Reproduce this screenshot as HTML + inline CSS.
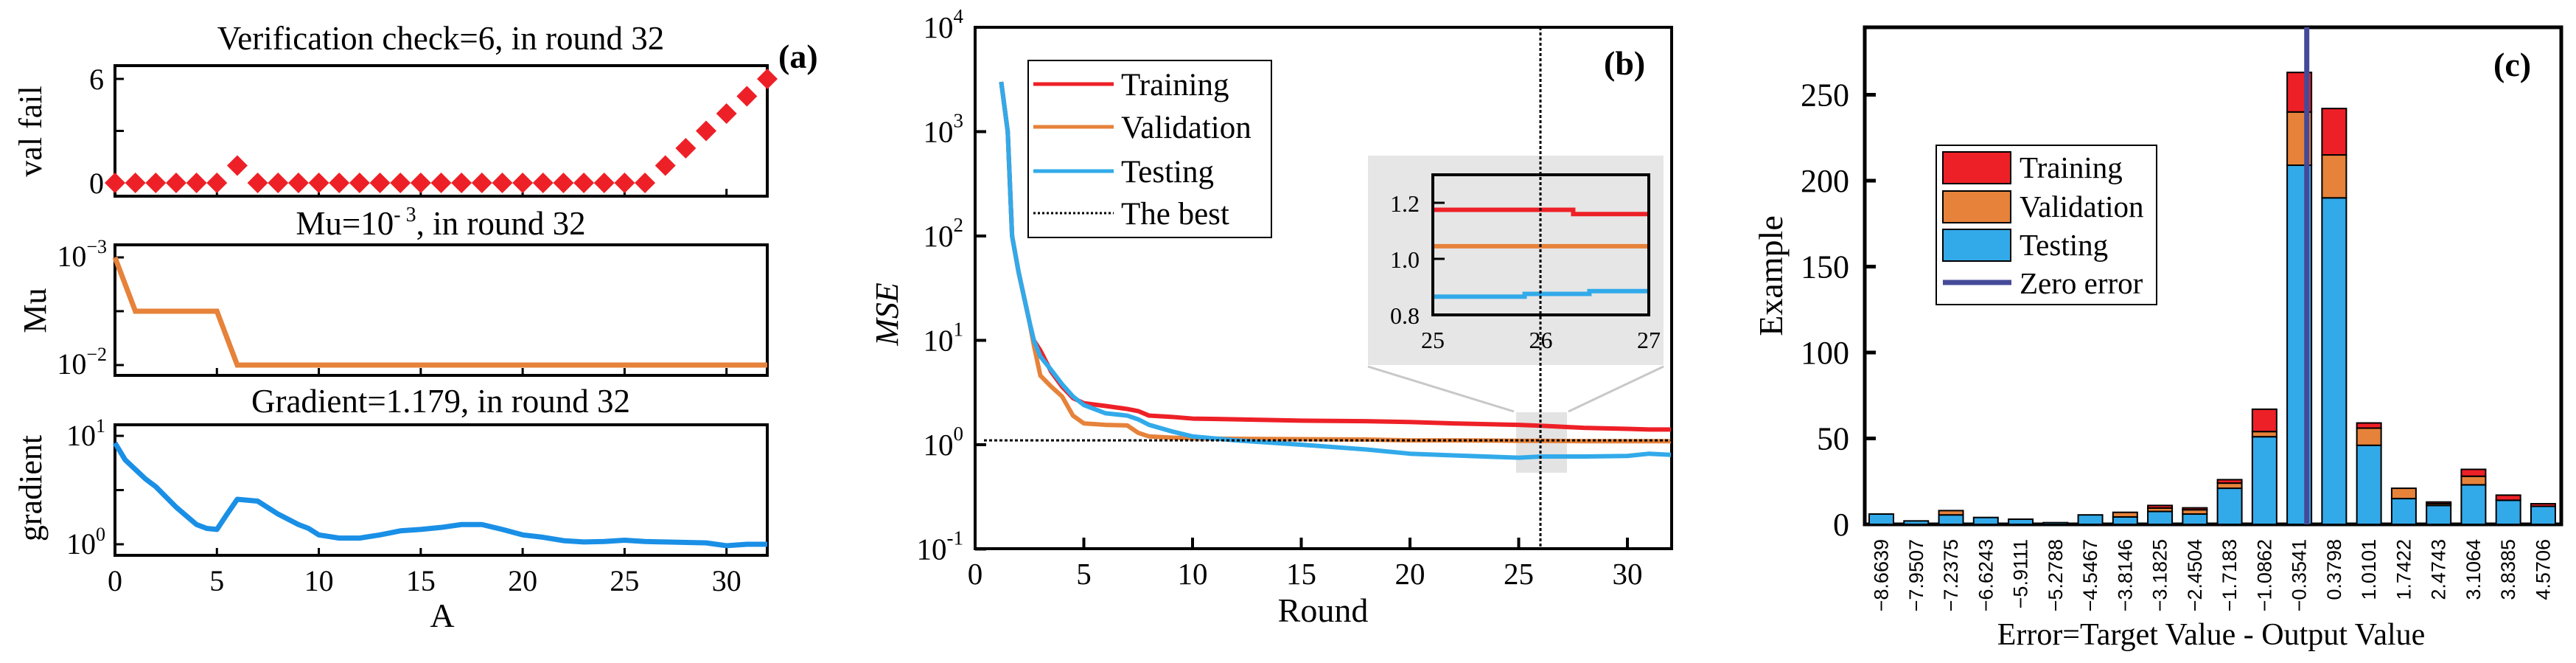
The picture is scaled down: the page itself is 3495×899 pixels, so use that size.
<!DOCTYPE html>
<html><head><meta charset="utf-8"><title>Training performance figure</title>
<style>
html,body{margin:0;padding:0;background:#fff;}
svg{display:block;font-family:"Liberation Serif","DejaVu Serif",serif;}
</style></head>
<body>
<svg id="fig" width="3495" height="899" viewBox="0 0 3495 899" xmlns="http://www.w3.org/2000/svg">
  <rect x="0" y="0" width="3495" height="899" fill="#fff"/>

  <!-- Panel (a) static text -->
  <text x="598" y="67" font-size="45" text-anchor="middle">Verification check=6, in round 32</text>
  <text x="1056" y="92" font-size="46" font-weight="bold">(a)</text>
  <text x="0" y="0" font-size="44" text-anchor="middle" transform="translate(56,178) rotate(-90)">val fail</text>
  <text x="598" y="318" font-size="45" text-anchor="middle">Mu=10<tspan font-size="28" dy="-18">- 3</tspan><tspan dy="18">, in round 32</tspan></text>
  <text x="0" y="0" font-size="44" text-anchor="middle" transform="translate(62,421) rotate(-90)">Mu</text>
  <text x="598" y="559" font-size="45" text-anchor="middle">Gradient=1.179, in round 32</text>
  <text x="0" y="0" font-size="44" text-anchor="middle" transform="translate(56,662) rotate(-90)">gradient</text>
  <text x="600" y="850" font-size="46" text-anchor="middle">A</text>

  <!-- Panel (b) static text -->
  <text x="0" y="0" font-size="44" font-style="italic" text-anchor="middle" transform="translate(1218,426) rotate(-90)">MSE</text>
  <text x="1795" y="843" font-size="46" text-anchor="middle">Round</text>
  <text x="2176" y="101" font-size="46" font-weight="bold">(b)</text>

  <!-- Panel (c) static text -->
  <text x="0" y="0" font-size="46" text-anchor="middle" transform="translate(2418,374) rotate(-90)">Example</text>
  <text x="3000" y="874" font-size="42" text-anchor="middle">Error=Target Value - Output Value</text>
  <text x="3383" y="103" font-size="46" font-weight="bold">(c)</text>

  <g id="layer"></g>
</svg>
<script>
// ---------- Panel (a) data ----------
const valRounds = [0,1,2,3,4,5,6,7,8,9,10,11,12,13,14,15,16,17,18,19,20,21,22,23,24,25,26,27,28,29,30,31,32];
const valFail   = [0,0,0,0,0,0,1,0,0,0,0,0,0,0,0,0,0,0,0,0,0,0,0,0,0,0,0,1,2,3,4,5,6];
const muRounds  = [0,1,5,6,32];
const muValues  = [0.001,0.00316,0.00316,0.01,0.01];
const gradRounds = [0,0.5,1,1.5,2,3,4,4.5,5,5.5,6,7,8,9,9.5,10,11,12,13,14,15,16,17,18,19,20,21,22,23,24,25,26,27,28,29,30,31,32];
const gradValues = [8.6,6,4.9,4,3.4,2.2,1.52,1.4,1.37,1.9,2.6,2.5,1.9,1.52,1.4,1.22,1.14,1.14,1.22,1.33,1.37,1.43,1.52,1.52,1.37,1.22,1.16,1.08,1.05,1.06,1.09,1.06,1.05,1.04,1.03,0.97,1.0,1.0];
const aXTicks = [0,5,10,15,20,25,30];

// ---------- Panel (b) data ----------
const mseRounds  = [1.2,1.5,1.7,2,2.5,2.7,3,3.5,4,4.5,5,6,7,7.5,8,9,10,12,15,18,20,22,25,26,28,30,31,32];
const mseTraining   = [3000,1000,100,45,15,10,8,5,3.6,2.8,2.5,2.35,2.2,2.1,1.9,1.85,1.78,1.75,1.7,1.68,1.65,1.6,1.55,1.52,1.45,1.42,1.4,1.4];
const mseValidation = [3000,1000,100,45,15,9,4.6,3.6,2.9,1.9,1.6,1.55,1.53,1.3,1.2,1.17,1.15,1.14,1.13,1.12,1.1,1.1,1.09,1.09,1.08,1.08,1.08,1.08];
const mseTesting    = [3000,1000,100,45,15,10,7,5.2,3.8,2.9,2.4,2.0,1.9,1.75,1.55,1.35,1.2,1.1,1.0,0.9,0.82,0.79,0.75,0.77,0.77,0.78,0.82,0.8];
const bestRound = 26;
const bestValue = 1.1;
const bXTicks = [0,5,10,15,20,25,30];
const bYExps  = [-1,0,1,2,3,4];
const insetRounds   = [25,25.85,25.85,26.3,26.3,26.45,26.45,27];
const insetTraining = [1.175,1.175,1.175,1.175,1.16,1.16,1.16,1.16];
const insetValidation = [1.045,1.045,1.045,1.045,1.045,1.045,1.045,1.045];
const insetTesting  = [0.865,0.865,0.875,0.875,0.875,0.875,0.885,0.885];
const insetYTicks = [0.8,1.0,1.2];
const insetYLabels = ["0.8","1.0","1.2"];
const insetXTicks = [25,26,27];

// ---------- Panel (c) data ----------
const errCats = ["\u22128.6639","\u22127.9507","\u22127.2375","\u22126.6243","\u22125.9111","\u22125.2788","\u22124.5467","\u22123.8146","\u22123.1825","\u22122.4504","\u22121.7183","\u22121.0862","\u22120.3541","0.3798","1.0101","1.7422","2.4743","3.1064","3.8385","4.5706"];
const histTesting    = [6,2,5.5,4,3,1,5.5,4.3,7.5,6,21,51,209,190,46,15,11,23,14,10.5];
const histValidation = [0,0,2.5,0,0,0,0,2.7,2,2.5,3,3,31,25,10,6,1,5,0,0];
const histTraining   = [0,0,0,0,0,0,0,0,1.5,1.1,2,13,23,27,3,0,1,4,3,1.5];
const cYTicks = [0,50,100,150,200,250];
const zeroErrorIndex = 12.7;

const NS = "http://www.w3.org/2000/svg";
const layer = document.getElementById('layer');
function mk(tag, attrs){ const e=document.createElementNS(NS,tag); for(const k in attrs) e.setAttribute(k,attrs[k]); layer.appendChild(e); return e; }

const RED="#ee2027", ORANGE="#e6823a", BLUE="#32aaea", GBLUE="#1a8fe6", NAVY="#454a98";

// ===== Panel (a) =====
const aL=156, aR=1041;
const ax = r => aL + r*(aR-aL)/32;
const vy = v => 248 - v*(248-107)/6;
const my = v => 349 + (Math.log10(v)+3)*146;
const gy = v => 738 - Math.log10(v)*147;
const aBoxes = [[89,266,'val-fail-plot-frame'],[332,509,'mu-plot-frame'],[576,753,'gradient-plot-frame']];
aBoxes.forEach(b=>{
  const r = mk('rect',{x:aL,y:b[0],width:aR-aL,height:b[1]-b[0],fill:'none',stroke:'#000','stroke-width':4});
  
  
  aXTicks.forEach(t=>{
    if(t===0) return;
    const tk = mk('line',{x1:ax(t),x2:ax(t),y1:b[1],y2:b[1]-10,stroke:'#000','stroke-width':3});
    
    
  });
});
// val fail y ticks
[[0,'0'],[3,''],[6,'6']].forEach(t=>{
  const tk = mk('line',{x1:aL,x2:aL+12,y1:vy(t[0]),y2:vy(t[0]),stroke:'#000','stroke-width':3});
  
  
  if(t[1]){ const tl = mk('text',{x:141,y:vy(t[0])+14,'font-size':40,'text-anchor':'end'}); tl.textContent=t[1];
    
     }
});
valRounds.forEach((r,i)=>{
  const cx=ax(r), cy=vy(valFail[i]), h=14;
  const d = mk('polygon',{points:`${cx},${cy-h} ${cx+h},${cy} ${cx},${cy+h} ${cx-h},${cy}`,fill:RED});
  
  
});
// mu ticks
[[0.001,'\u22123'],[0.00316,''],[0.01,'\u22122']].forEach(t=>{
  const tk = mk('line',{x1:aL,x2:aL+12,y1:my(t[0]),y2:my(t[0]),stroke:'#000','stroke-width':3});
  
  
  if(t[1]){ const tl = mk('text',{x:145,y:my(t[0])+12,'font-size':40,'text-anchor':'end'});
    tl.innerHTML = '10<tspan font-size="26" dy="-18">'+t[1]+'</tspan>';
    
     }
});
const muLine = mk('polyline',{points:muRounds.map((r,i)=>ax(r)+','+my(muValues[i])).join(' '),fill:'none',stroke:ORANGE,'stroke-width':7});


// gradient ticks
[[10,'1'],[3.16,''],[1,'0']].forEach(t=>{
  const tk = mk('line',{x1:aL,x2:aL+12,y1:gy(t[0]),y2:gy(t[0]),stroke:'#000','stroke-width':3});
  
  
  if(t[1]){ const tl = mk('text',{x:143,y:gy(t[0])+13,'font-size':40,'text-anchor':'end'});
    tl.innerHTML = '10<tspan font-size="26" dy="-18">'+t[1]+'</tspan>';
    
     }
});
const gLine = mk('polyline',{points:gradRounds.map((r,i)=>ax(r)+','+gy(gradValues[i])).join(' '),fill:'none',stroke:GBLUE,'stroke-width':7,'stroke-linejoin':'round'});


aXTicks.forEach(t=>{
  const tl = mk('text',{x:ax(t),y:801,'font-size':40,'text-anchor':'middle'}); tl.textContent=t;
  
  
});

// ===== Panel (b) =====
const bL=1323, bR=2268, bT=37, bB=744;
const bx = r => bL + r*29.5;
const by = v => 603 - Math.log10(v)*141.5;
const bFrame = mk('rect',{x:bL,y:bT,width:bR-bL,height:bB-bT,fill:'none',stroke:'#000','stroke-width':4});


bXTicks.forEach(t=>{
  if(t>0){ const tk = mk('line',{x1:bx(t),x2:bx(t),y1:bB,y2:bB-15,stroke:'#000','stroke-width':4});
    
     }
  const tl = mk('text',{x:bx(t),y:792,'font-size':41,'text-anchor':'middle'}); tl.textContent=t;
  
  
});
bYExps.forEach(e=>{
  const yy = by(Math.pow(10,e));
  const tk = mk('line',{x1:bL,x2:bL+15,y1:yy,y2:yy,stroke:'#000','stroke-width':4});
  
  
  const tl = mk('text',{x:1307,y:yy+14,'font-size':41,'text-anchor':'end'});
  tl.innerHTML = '10<tspan font-size="27" dy="-20">'+e+'</tspan>';
  
  
});
// zoom callout
const cg = mk('rect',{x:2057,y:559,width:69,height:82,fill:'#d0d0d0','fill-opacity':0.6});


const cl1 = mk('line',{x1:1856,y1:497,x2:2054,y2:558,stroke:'#c8c8c8','stroke-width':3});


const cl2 = mk('line',{x1:2257,y1:497,x2:2128,y2:558,stroke:'#c8c8c8','stroke-width':3});


[[mseValidation,ORANGE,'validation-line'],[mseTraining,RED,'training-line'],[mseTesting,BLUE,'testing-line']].forEach(s=>{
  const pts = mseRounds.map((r,i)=>bx(r)+','+by(s[0][i])).join(' ');
  const pl = mk('polyline',{points:pts,fill:'none',stroke:s[1],'stroke-width':6,'stroke-linejoin':'round'});
  
  
});
const hb = mk('line',{x1:1335,x2:bR,y1:by(bestValue),y2:by(bestValue),stroke:'#000','stroke-width':3,'stroke-dasharray':'4,3'});


// inset
const ib = mk('rect',{x:1856,y:211,width:401,height:284,fill:'#e6e6e6'});


const ix = r => 1944 + (r-25)*146.5;
const iy = v => 351 - (v-1.0)*380;
[[insetValidation,ORANGE,'inset-validation-line'],[insetTraining,RED,'inset-training-line'],[insetTesting,BLUE,'inset-testing-line']].forEach(s=>{
  const pts = insetRounds.map((r,i)=>ix(r)+','+iy(s[0][i])).join(' ');
  const pl = mk('polyline',{points:pts,fill:'none',stroke:s[1],'stroke-width':6});
  
  
});
const ifr = mk('rect',{x:1944,y:237,width:293,height:190,fill:'none',stroke:'#000','stroke-width':4});


insetYTicks.forEach((v,i)=>{
  if(i>0){ const tk = mk('line',{x1:1944,x2:1960,y1:iy(v),y2:iy(v),stroke:'#000','stroke-width':3});
    
     }
  const tl = mk('text',{x:1926,y:iy(v)+12,'font-size':32,'text-anchor':'end'}); tl.textContent=insetYLabels[i];
  
  
});
insetXTicks.forEach(t=>{
  const tl = mk('text',{x:ix(t),y:472,'font-size':32,'text-anchor':'middle'}); tl.textContent=t;
  
  
});
const vb = mk('line',{x1:bx(bestRound),x2:bx(bestRound),y1:bT,y2:bB,stroke:'#000','stroke-width':3,'stroke-dasharray':'4,3'});


// legend b
const lgb = mk('rect',{x:1395,y:82,width:330,height:240,fill:'#fff',stroke:'#000','stroke-width':2});


[['Training',RED,114,''],['Validation',ORANGE,172,''],['Testing',BLUE,232,''],['The best','#000',289,'3,3']].forEach(e=>{
  const ln = mk('line',{x1:1402,x2:1511,y1:e[2],y2:e[2],stroke:e[1],'stroke-width':e[3]?3:5});
  if(e[3]) ln.setAttribute('stroke-dasharray',e[3]);
  
  
  const tl = mk('text',{x:1521,y:e[2]+15,'font-size':43}); tl.textContent=e[0];
  
  
});

// ===== Panel (c) =====
const cL=2530, cR=3475, cT=37, cB=711;
const cy = v => cB - v*2.33;
const cx0 = i => 2536 + i*47.26;
const bw = 33;
const cFrame = mk('rect',{x:cL,y:cT,width:cR-cL,height:cB-cT,fill:'none',stroke:'#000','stroke-width':5});


cYTicks.forEach(t=>{
  const tk = mk('line',{x1:cL,x2:cL+15,y1:cy(t),y2:cy(t),stroke:'#000','stroke-width':5});
  
  
  const tl = mk('text',{x:2509,y:cy(t)+15,'font-size':44,'text-anchor':'end'}); tl.textContent=t;
  
  
});
errCats.forEach((c,i)=>{
  const x = cx0(i);
  const t = histTesting[i], v = histValidation[i], r = histTraining[i];
  const b1 = mk('rect',{x:x,y:cy(t),width:bw,height:cB-cy(t),fill:BLUE,stroke:'#000','stroke-width':2});
  
  
  if(v>0){ const b2 = mk('rect',{x:x,y:cy(t+v),width:bw,height:cy(t)-cy(t+v),fill:ORANGE,stroke:'#000','stroke-width':2});
    
     }
  if(r>0){ const b3 = mk('rect',{x:x,y:cy(t+v+r),width:bw,height:cy(t+v)-cy(t+v+r),fill:RED,stroke:'#000','stroke-width':2});
    
     }
  const tl = mk('text',{x:0,y:0,'font-size':27,'text-anchor':'end','font-family':'"Liberation Sans","DejaVu Sans",sans-serif',transform:`translate(${x+bw/2+9},${cB+20}) rotate(-90)`});
  tl.textContent = c;
  
  
});
const zx = cx0(0) + zeroErrorIndex*47.26 - 6.5;
const zl = mk('line',{x1:zx,x2:zx,y1:cT,y2:cB,stroke:NAVY,'stroke-width':7});


// legend c
const lgc = mk('rect',{x:2627,y:197,width:299,height:216,fill:'#fff',stroke:'#000','stroke-width':2});


[['Training',RED,206],['Validation',ORANGE,259],['Testing',BLUE,311]].forEach(e=>{
  const sw = mk('rect',{x:2636,y:e[2],width:92,height:43,fill:e[1],stroke:'#000','stroke-width':2});
  
  
  const tl = mk('text',{x:2740,y:e[2]+35,'font-size':41}); tl.textContent=e[0];
  
  
});
const zsw = mk('line',{x1:2636,x2:2729,y1:383,y2:383,stroke:NAVY,'stroke-width':7});


const ztl = mk('text',{x:2740,y:398,'font-size':41}); ztl.textContent='Zero error';


</script>
</body></html>
